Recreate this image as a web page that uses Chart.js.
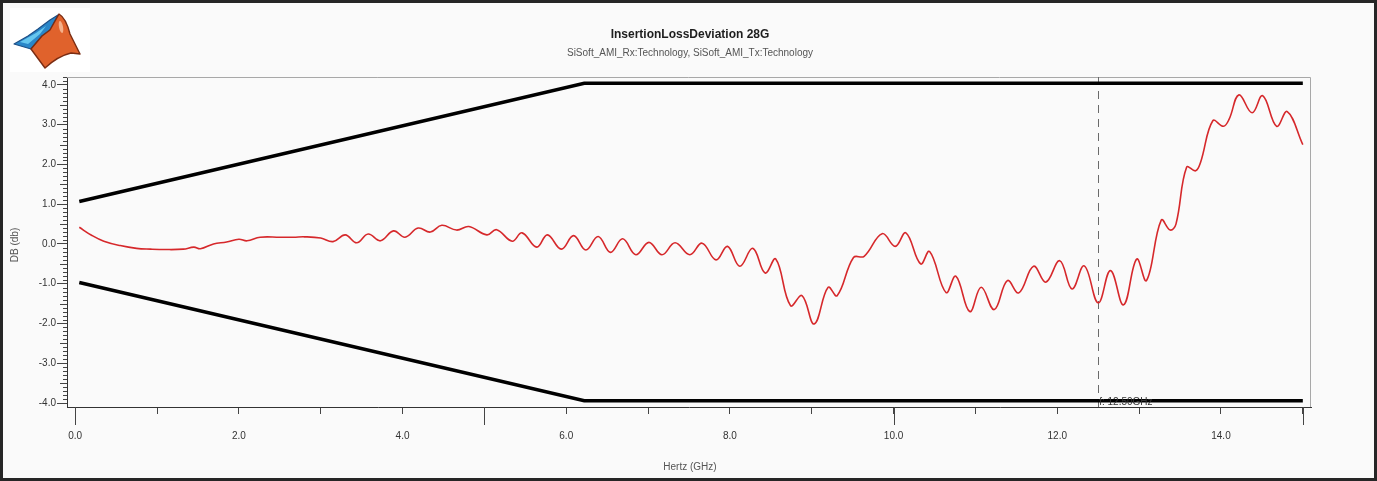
<!DOCTYPE html>
<html>
<head>
<meta charset="utf-8">
<title>InsertionLossDeviation 28G</title>
<script src="https://cdn.jsdelivr.net/npm/chart.js@4.4.1/dist/chart.umd.min.js"></script>
<style>
  html, body { margin: 0; padding: 0; background: #fafafa; }
  #wrap { width: 1377px; height: 481px; position: relative; }
</style>
</head>
<body>
<div id="wrap"><canvas id="ildChart"></canvas></div>
<script>
// Insertion loss deviation curve
const freqGHz = [
  0.05, 0.2, 0.35, 0.55, 0.75, 0.92, 1.1, 1.32, 1.45, 1.53, 1.69, 1.85, 2.0, 2.1, 2.26, 2.5, 2.67, 2.8, 3.0,
  3.15, 3.3, 3.44, 3.58, 3.73, 3.89, 4.03, 4.19, 4.34, 4.48, 4.66, 4.81, 5.03, 5.15, 5.34, 5.46, 5.64, 5.77,
  5.94, 6.09, 6.24, 6.39, 6.54, 6.69, 6.85, 7.01, 7.17, 7.33, 7.51, 7.66, 7.83, 7.97, 8.12, 8.28, 8.43, 8.56,
  8.74, 8.88, 9.03, 9.2, 9.31, 9.51, 9.64, 9.86, 10.02, 10.15, 10.33, 10.44, 10.64, 10.76, 10.93, 11.07,
  11.23, 11.39, 11.53, 11.71, 11.86, 12.03, 12.18, 12.33, 12.5, 12.65, 12.81, 12.97, 13.09, 13.27, 13.38,
  13.45, 13.58, 13.69, 13.75, 13.9, 14.03, 14.1, 14.22, 14.38, 14.51, 14.68, 14.81, 15.0
];
const ildDb = [
  0.42, 0.22, 0.07, -0.04, -0.11, -0.13, -0.14, -0.13, -0.08, -0.12, 0.0, 0.05, 0.12, 0.08, 0.17, 0.17, 0.17, 0.18, 0.15,
  0.06, 0.23, 0.03, 0.25, 0.08, 0.33, 0.17, 0.4, 0.3, 0.47, 0.35, 0.44, 0.23, 0.36, 0.07, 0.28, -0.08, 0.23,
  -0.13, 0.21, -0.15, 0.19, -0.21, 0.13, -0.27, 0.04, -0.27, 0.03, -0.27, 0.02, -0.4, -0.06, -0.56, -0.11, -0.73, -0.38,
  -1.55, -1.3, -2.01, -1.09, -1.3, -0.34, -0.31, 0.26, -0.06, 0.28, -0.5, -0.19, -1.22, -0.81, -1.7, -1.09,
  -1.65, -0.92, -1.23, -0.56, -0.96, -0.42, -1.13, -0.55, -1.48, -0.67, -1.53, -0.38, -0.92, 0.6, 0.35,
  0.5, 1.93, 1.84, 2.05, 3.1, 2.96, 3.14, 3.75, 3.3, 3.73, 2.96, 3.33, 2.5
];

// Upper / lower limit masks
const maskFreqGHz = [0.05, 6.22, 15.0];
const maskUpperDb = [1.07, 4.04, 4.04];
const maskLowerDb = [-0.97, -3.94, -3.94];

// Marker
const markerGHz = 12.5;
const markerLabel = 'f: 12.50GHz';

// Axis ticks
const xTickValues = [0, 1, 2, 3, 4, 5, 6, 7, 8, 9, 10, 11, 12, 13, 14, 15];
const xLabelValues = [0, 2, 4, 6, 8, 10, 12, 14];
const xLongTicks = [0, 5, 10, 15];
const yTickValues = [-4, -3, -2, -1, 0, 1, 2, 3, 4];
const yMinorStep = 0.1;

const FONT = '"Liberation Sans", Arial, sans-serif';

function toPoints(xs, ys) {
  return xs.map((x, i) => ({ x: x, y: ys[i] }));
}

function drawLogo(ctx) {
  // MATLAB-style membrane logo (top left)
  ctx.save();
  ctx.fillStyle = '#ffffff';
  ctx.fillRect(10, 8, 80, 64);
  ctx.lineJoin = 'round';
  // blue wing
  ctx.beginPath();
  ctx.moveTo(14, 44);
  ctx.lineTo(28, 36);
  ctx.lineTo(38, 29);
  ctx.lineTo(50, 20);
  ctx.lineTo(58, 15);
  ctx.lineTo(50, 30);
  ctx.lineTo(42, 36);
  ctx.lineTo(31, 49);
  ctx.closePath();
  ctx.fillStyle = '#2a86c8';
  ctx.fill();
  ctx.strokeStyle = '#1d4f86';
  ctx.lineWidth = 1.2;
  ctx.stroke();
  ctx.beginPath();
  ctx.moveTo(20, 42);
  ctx.lineTo(36, 33);
  ctx.lineTo(46, 26);
  ctx.lineTo(40, 34);
  ctx.lineTo(28, 44);
  ctx.closePath();
  ctx.fillStyle = '#66c6ee';
  ctx.fill();
  // orange peak
  ctx.beginPath();
  ctx.moveTo(59, 14);
  ctx.quadraticCurveTo(66, 18, 70, 34);
  ctx.lineTo(80, 54);
  ctx.lineTo(71, 53);
  ctx.quadraticCurveTo(58, 56, 45, 68);
  ctx.lineTo(31, 49);
  ctx.lineTo(42, 36);
  ctx.lineTo(50, 30);
  ctx.closePath();
  ctx.fillStyle = '#e0622c';
  ctx.fill();
  ctx.strokeStyle = '#7a2c12';
  ctx.lineWidth = 1.4;
  ctx.stroke();
  ctx.beginPath();
  ctx.ellipse(61, 27, 2, 6, -0.2, 0, Math.PI * 2);
  ctx.fillStyle = '#f4b08a';
  ctx.fill();
  ctx.restore();
}

const decorPlugin = {
  id: 'decor',
  beforeDraw(chart) {
    const ctx = chart.ctx;
    ctx.save();
    ctx.fillStyle = '#fafafa';
    ctx.fillRect(0, 0, chart.width, chart.height);
    ctx.strokeStyle = '#262626';
    ctx.lineWidth = 3;
    ctx.strokeRect(1.5, 1.5, chart.width - 3, chart.height - 3);
    drawLogo(ctx);

    ctx.textAlign = 'center';
    ctx.textBaseline = 'middle';
    ctx.fillStyle = '#1e1e1e';
    ctx.font = '600 12px ' + FONT;
    ctx.fillText('InsertionLossDeviation 28G', 690, 35);
    ctx.fillStyle = '#555';
    ctx.font = '10px ' + FONT;
    ctx.fillText('SiSoft_AMI_Rx:Technology, SiSoft_AMI_Tx:Technology', 690, 53);
    ctx.fillText('Hertz (GHz)', 690, 467);
    ctx.translate(15, 245);
    ctx.rotate(-Math.PI / 2);
    ctx.fillText('DB (db)', 0, 0);
    ctx.restore();
  },
  beforeDatasetsDraw(chart) {
    const { ctx, chartArea: a, scales: { x, y } } = chart;
    ctx.save();
    // light frame on top and right
    ctx.strokeStyle = '#a8a8a8';
    ctx.lineWidth = 1;
    ctx.beginPath();
    ctx.moveTo(a.left, a.top + 0.5);
    ctx.lineTo(a.right - 0.5, a.top + 0.5);
    ctx.lineTo(a.right - 0.5, a.bottom);
    ctx.stroke();

    // y minor ticks (ruler)
    ctx.strokeStyle = '#444';
    ctx.beginPath();
    const nMin = Math.ceil(y.min / yMinorStep);
    const nMax = Math.floor(y.max / yMinorStep);
    for (let i = nMin; i <= nMax; i++) {
      if (i % 10 === 0) continue;
      const len = (i % 5 === 0) ? 7 : 4;
      const py = Math.round(y.getPixelForValue(i * yMinorStep)) + 0.5;
      ctx.moveTo(a.left - len, py);
      ctx.lineTo(a.left, py);
    }
    ctx.stroke();

    // longer x ticks
    ctx.beginPath();
    xLongTicks.forEach(v => {
      const px = Math.round(x.getPixelForValue(v)) + 0.5;
      ctx.moveTo(px, a.bottom);
      ctx.lineTo(px, a.bottom + 18);
    });
    ctx.stroke();

    // dashed marker
    const mx = Math.round(x.getPixelForValue(markerGHz)) + 0.5;
    ctx.strokeStyle = '#6a6a6a';
    ctx.setLineDash([8, 6]);
    ctx.beginPath();
    ctx.moveTo(mx, a.top);
    ctx.lineTo(mx, a.bottom);
    ctx.stroke();
    ctx.restore();
  },
  afterDatasetsDraw(chart) {
    const { ctx, chartArea: a, scales: { x } } = chart;
    ctx.save();
    ctx.fillStyle = '#333';
    ctx.font = '10px ' + FONT;
    ctx.textAlign = 'left';
    ctx.textBaseline = 'alphabetic';
    ctx.fillText(markerLabel, x.getPixelForValue(markerGHz) + 1, a.bottom - 2);
    ctx.restore();
  }
};

const ctx = document.getElementById('ildChart').getContext('2d');
const ildChart = new Chart(ctx, {
  type: 'line',
  data: {
    datasets: [
      {
        label: 'ILD',
        data: toPoints(freqGHz, ildDb),
        borderColor: '#d6282b',
        borderWidth: 1.6,
        pointRadius: 0,
        tension: 0.4,
        fill: false
      },
      {
        label: 'Upper limit',
        data: toPoints(maskFreqGHz, maskUpperDb),
        borderColor: '#000000',
        borderWidth: 3.5,
        pointRadius: 0,
        tension: 0,
        fill: false
      },
      {
        label: 'Lower limit',
        data: toPoints(maskFreqGHz, maskLowerDb),
        borderColor: '#000000',
        borderWidth: 3.5,
        pointRadius: 0,
        tension: 0,
        fill: false
      }
    ]
  },
  options: {
    responsive: true,
    maintainAspectRatio: false,
    animation: false,
    layout: { padding: { left: 0, top: 77, right: 66, bottom: 0 } },
    plugins: {
      legend: { display: false },
      title: { display: false },
      tooltip: { enabled: false }
    },
    scales: {
      x: {
        type: 'linear',
        min: -0.1,
        max: 15.1,
        afterBuildTicks: scale => { scale.ticks = xTickValues.map(v => ({ value: v })); },
        afterFit: scale => { scale.height = 74; },
        grid: { drawOnChartArea: false, drawTicks: true, tickLength: 7, tickColor: '#444' },
        border: { display: true, color: '#333', width: 1 },
        ticks: {
          autoSkip: false,
          maxRotation: 0,
          padding: 16,
          color: '#333',
          font: { family: FONT, size: 10 },
          callback: v => xLabelValues.includes(v) ? v.toFixed(1) : ''
        }
      },
      y: {
        type: 'linear',
        min: -4.1,
        max: 4.2,
        afterBuildTicks: scale => { scale.ticks = yTickValues.map(v => ({ value: v })); },
        afterFit: scale => { scale.width = 67; },
        grid: { drawOnChartArea: false, drawTicks: true, tickLength: 10, tickColor: '#444' },
        border: { display: true, color: '#333', width: 1 },
        ticks: {
          padding: 1,
          color: '#333',
          font: { family: FONT, size: 10 },
          callback: v => v.toFixed(1)
        }
      }
    }
  },
  plugins: [decorPlugin]
});
</script>
</body>
</html>
